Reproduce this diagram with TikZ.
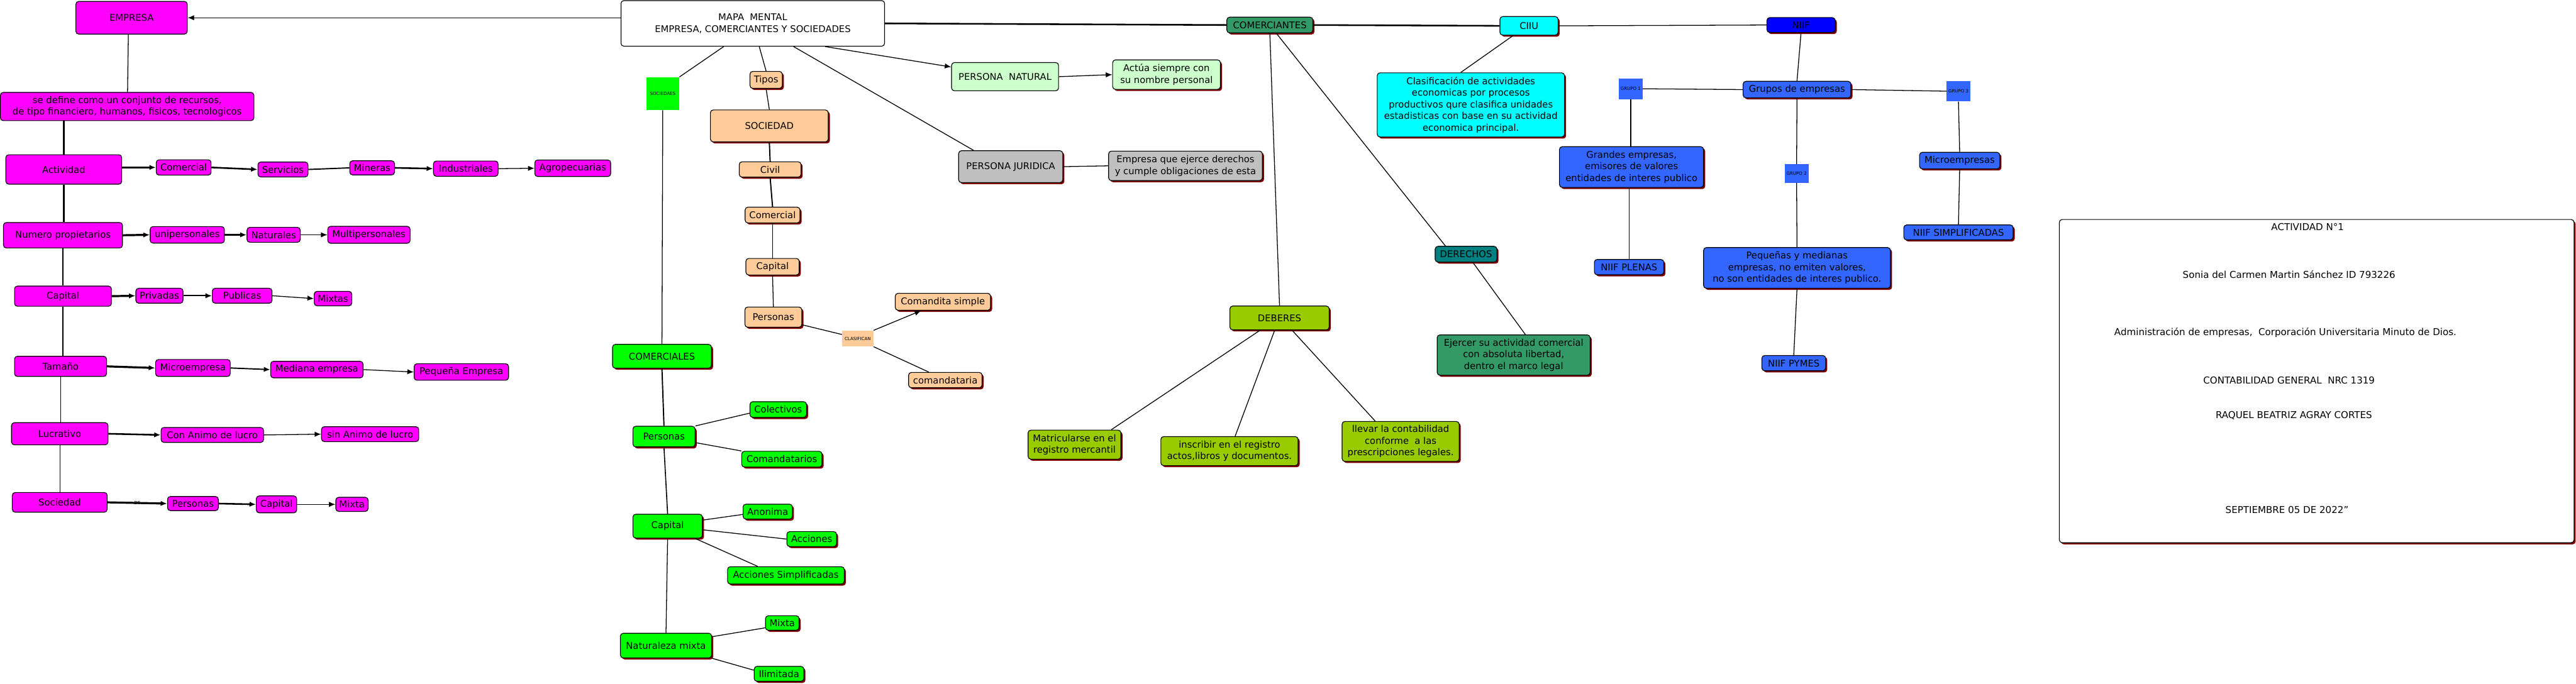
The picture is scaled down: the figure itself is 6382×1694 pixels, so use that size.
\documentclass[tikz,border=0pt]{standalone}
\usepackage{fontspec}
\setmainfont{DejaVu Sans}
\usetikzlibrary{arrows.meta,shadows,calc}
\definecolor{mag}{HTML}{FF00FF}
\definecolor{gre}{HTML}{00FF00}
\definecolor{pea}{HTML}{FFCC99}
\definecolor{lgr}{HTML}{CCFFCC}
\definecolor{gry}{HTML}{C0C0C0}
\definecolor{sea}{HTML}{339966}
\definecolor{ygr}{HTML}{99CC00}
\definecolor{tea}{HTML}{008080}
\definecolor{cya}{HTML}{00FFFF}
\definecolor{blu}{HTML}{0000FF}
\definecolor{rb}{HTML}{3366FF}
\definecolor{shd}{HTML}{800000}
\newcommand\mapfont{\fontsize{23}{29}\selectfont}
\newcommand\infofont{\fontsize{23.5}{28}\selectfont}
\newcommand\tinyfont{\fontsize{11}{13}\selectfont}
\begin{document}
\begin{tikzpicture}[x=1pt,y=-1pt,
 bx/.style={rounded corners=7pt, draw=black, line width=1.8pt, inner sep=0pt, align=center, font=\mapfont, text=black},
 sz/.style 2 args={minimum width=#1pt, minimum height=#2pt},
 sh/.style={drop shadow={shadow xshift=4pt, shadow yshift=-4pt, fill=shd, opacity=1}},
 mg/.style={bx, fill=mag},
 gr/.style={bx, sh, fill=gre},
 pe/.style={bx, sh, fill=pea},
 lg/.style={bx, fill=lgr},
 gy/.style={bx, sh, fill=gry},
 se/.style={bx, sh, fill=sea},
 yg/.style={bx, sh, fill=ygr},
 te/.style={bx, sh, fill=tea},
 cy/.style={bx, sh, fill=cya},
 bl/.style={bx, sh, fill=blu},
 rbx/.style={bx, sh, fill=rb},
 sq/.style={draw=none, inner sep=0pt, font=\tinyfont, text=black, align=center},
 ln/.style={line width=2pt},
 arr/.style={line width=2pt, -{Latex[length=16pt,width=13pt]}},
]
\fill[white] (0,0) rectangle (6382,1694);
\useasboundingbox (0,0) rectangle (6382,1694);

% ---------- title ----------
\node[bx, fill=white, sz={653}{113}] (mapa) at (1865,58) {MAPA\ \ MENTAL\\EMPRESA, COMERCIANTES Y SOCIEDADES};

% ---------- EMPRESA branch ----------
\node[mg, sz={276}{81}] (empresa) at (326,44) {EMPRESA};
\node[mg, sz={628}{70}] (def) at (315,264) {se define como un conjunto de recursos,\\de tipo financiero, humanos, fisicos, tecnologicos};
\node[mg, sz={287}{73}] (actividad) at (158,420) {Actividad};
\node[mg, sz={136}{38}] (acomercial) at (455,415) {Comercial};
\node[mg, sz={124}{37}] (servicios) at (701,420) {Servicios};
\node[mg, sz={111}{35}] (mineras) at (922,416) {Mineras};
\node[mg, sz={160}{38}] (industriales) at (1154,418) {Industriales};
\node[mg, sz={188}{41}] (agro) at (1419,417) {Agropecuarias};
\node[mg, sz={295}{63}] (numero) at (156,583) {Numero propietarios};
\node[mg, sz={184}{41}] (unip) at (464,582) {unipersonales};
\node[mg, sz={132}{37}] (naturales) at (678,582) {Naturales};
\node[mg, sz={204}{42}] (multip) at (914,582) {Multipersonales};
\node[mg, sz={240}{50}] (capitalm) at (156,734) {Capital};
\node[mg, sz={117}{37}] (privadas) at (395,733) {Privadas};
\node[mg, sz={148}{37}] (publicas) at (600,733) {Publicas};
\node[mg, sz={93}{36}] (mixtas) at (825,740) {Mixtas};
\node[mg, sz={228}{50}] (tamano) at (150,908) {Tamaño};
\node[mg, sz={185}{42}] (micro) at (478,912) {Microempresa};
\node[mg, sz={229}{41}] (mediana) at (785,916) {Mediana empresa};
\node[mg, sz={234}{41}] (pequena) at (1143,922) {Pequeña Empresa};
\node[mg, sz={239}{55}] (lucrativo) at (148,1075) {Lucrativo};
\node[mg, sz={254}{37}] (conanimo) at (526,1078) {Con Animo de lucro};
\node[mg, sz={241}{37}] (sinanimo) at (917,1076) {sin Animo de lucro};
\node[mg, sz={235}{49}] (sociedadm) at (148,1245) {Sociedad};
\node[mg, sz={126}{35}] (personasm) at (478,1248) {Personas};
\node[mg, sz={100}{42}] (capitalm2) at (685,1250) {Capital};
\node[mg, sz={80}{35}] (mixtam) at (872,1250) {Mixta};

\draw[arr] (mapa.west |- empresa.east) -- (empresa.east);
\draw[ln] ([xshift=-8pt]empresa.south) -- ([xshift=1pt]def.north);
\draw[line width=4pt] (actividad.north |- def.south) -- (actividad.north);
\draw[line width=4pt] (actividad.south) -- (actividad.south |- numero.north);
\draw[line width=3pt] (numero.south) -- (numero.south |- capitalm.north);
\draw[ln] (capitalm.south) -- (capitalm.south |- tamano.north);
\draw[ln] (tamano.south) -- (tamano.south |- lucrativo.north);
\draw[line width=1.5pt] (lucrativo.south) -- (lucrativo.south |- sociedadm.north);

\draw[arr, line width=5pt] (actividad.east |- acomercial.west) -- (acomercial.west);
\draw[arr, line width=4pt] (acomercial.east) -- (servicios.west);
\draw[line width=3pt] (servicios.east) -- (mineras.west);
\draw[arr, line width=4pt] (mineras.east) -- (industriales.west);
\draw[arr] (industriales.east) -- (agro.west);
\draw[arr, line width=5pt] (numero.east) -- (unip.west);
\draw[arr, line width=4pt] (unip.east) -- (naturales.west);
\draw[arr] (naturales.east) -- (multip.west);
\draw[arr, line width=5pt] (capitalm.east) -- (privadas.west);
\draw[arr, line width=3pt] (privadas.east) -- (publicas.west);
\draw[arr] (publicas.east) -- (mixtas.west);
\draw[arr, line width=5pt] (tamano.east) -- (micro.west);
\draw[arr, line width=3pt] (micro.east) -- (mediana.west);
\draw[arr] (mediana.east) -- (pequena.west);
\draw[arr, line width=4pt] (lucrativo.east) -- (conanimo.west);
\draw[arr] (conanimo.east) -- (sinanimo.west);
\draw[arr, line width=5pt] (sociedadm.east) -- node[font=\tinyfont, inner sep=0pt] (de) {DE} (personasm.west);
\draw[arr, line width=4pt] (personasm.east) -- (capitalm2.west);
\draw[arr] (capitalm2.east) -- (mixtam.west);

% ---------- SOCIEDADES branch ----------
\node[sq, fill=gre, sz={82}{82}] (sociedaes) at (1642,232) {SOCIEDAES};
\node[gr, sz={245}{59}] (comerciales) at (1640,883) {COMERCIALES};
\node[gr, sz={154}{51}] (gpersonas) at (1645,1082) {Personas};
\node[gr, sz={140}{39}] (colectivos) at (1928,1015) {Colectivos};
\node[gr, sz={199}{39}] (comandatarios) at (1937,1138) {Comandatarios};
\node[gr, sz={172}{59}] (gcapital) at (1654,1304) {Capital};
\node[gr, sz={122}{37}] (anonima) at (1902,1268) {Anonima};
\node[gr, sz={123}{37}] (acciones) at (2011,1336) {Acciones};
\node[gr, sz={289}{43}] (accsimp) at (1947,1426) {Acciones Simplificadas};
\node[gr, sz={226}{61}] (natmixta) at (1650,1600) {Naturaleza mixta};
\node[gr, sz={83}{36}] (gmixta) at (1938,1544) {Mixta};
\node[gr, sz={123}{37}] (ilimitada) at (1930,1670) {Ilimitada};

\draw[ln] ([xshift=-72pt]mapa.south) -- (sociedaes.north east);
\draw[ln] (sociedaes.south) -- (comerciales.north);
\draw[line width=3pt] (comerciales.south) -- (gpersonas.north);
\draw[ln] (gpersonas.north east) -- ([yshift=-9pt]colectivos.west);
\draw[ln] ([yshift=-15pt]gpersonas.east) -- (comandatarios.north west);
\draw[line width=2.5pt] (gpersonas.south) -- (gcapital.north);
\draw[ln] ([yshift=15pt]gcapital.east) -- ([yshift=-7pt]anonima.west);
\draw[ln] ([yshift=-9pt]gcapital.east) -- (acciones.west);
\draw[ln] ([xshift=68pt]gcapital.south) -- ([xshift=-70pt]accsimp.north);
\draw[ln] (gcapital.south) -- (natmixta.north);
\draw[ln] ([yshift=22pt]natmixta.east) -- ([yshift=-12pt]gmixta.west);
\draw[ln] (natmixta.south east) -- ([yshift=9pt]ilimitada.west);

% ---------- Tipos de sociedad ----------
\node[pe, sz={80}{42}] (tipos) at (1898,198) {Tipos};
\node[pe, sz={292}{79}] (sociedad) at (1906,312) {SOCIEDAD};
\node[pe, sz={153}{38}] (civil) at (1908,420) {Civil};
\node[pe, sz={136}{39}] (ocomercial) at (1914,533) {Comercial};
\node[pe, sz={132}{41}] (ocapital) at (1914,661) {Capital};
\node[pe, sz={141}{50}] (opersonas) at (1916,786) {Personas};
\node[sq, fill=pea, sz={78}{40}] (clasifican) at (2125,839) {CLASIFICAN};
\node[pe, sz={236}{42}] (comandita) at (2336,748) {Comandita simple};
\node[pe, sz={182}{38}] (comandataria) at (2342,942) {comandataria};

\draw[ln] ([xshift=16pt]mapa.south) -- (tipos.north);
\draw[ln] (tipos.south) -- (sociedad.north);
\draw[line width=3pt] (sociedad.south) -- (civil.north);
\draw[line width=3pt] (civil.south) -- (ocomercial.north);
\draw[ln] (ocomercial.south) -- (ocapital.north);
\draw[ln] (ocapital.south) -- (opersonas.north);
\draw[ln] ([yshift=-19pt]opersonas.east) -- ([yshift=10pt]clasifican.west);
\draw[arr] (clasifican.north east) -- ([xshift=-54pt]comandita.south);
\draw[ln] (clasifican.south east) -- ([xshift=-41pt]comandataria.north);

% ---------- personas ----------
\node[lg, sz={265}{70}] (pn) at (2490,190) {PERSONA\ \ NATURAL};
\node[lg, sh, sz={267}{73}] (actua) at (2890,185) {Actúa siempre con\\su nombre personal};
\node[gy, sz={258}{79}] (pj) at (2504,413) {PERSONA JURIDICA};
\node[gy, sz={381}{73}] (empresaque) at (2937,411) {Empresa que ejerce derechos\\y cumple obligaciones de esta};

\draw[arr] ([xshift=179pt]mapa.south) -- ([yshift=24pt]pn.west);
\draw[arr] (pn.east) -- (actua.west);
\draw[ln] ([xshift=101pt]mapa.south) -- ([xshift=-92pt]pj.north);
\draw[ln] (pj.east) -- (empresaque.west);

% ---------- COMERCIANTES ----------
\node[se, sz={213}{39}] (comerciantes) at (3146,62) {COMERCIANTES};
\node[yg, sz={246}{59}] (deberes) at (3170,788) {DEBERES};
\node[yg, sz={230}{72}] (matric) at (2662,1102) {Matricularse en el\\registro mercantil};
\node[yg, sz={340}{72}] (inscribir) at (3046,1118) {inscribir en el registro\\actos,libros y documentos.};
\node[yg, sz={290}{99}] (llevar) at (3470,1094) {llevar la contabilidad\\conforme\ \ a las\\prescripciones legales.};
\node[te, sz={153}{39}] (derechos) at (3632,630) {DERECHOS};
\node[se, sz={379}{100}] (ejercer) at (3750,880) {Ejercer su actividad comercial\\con absoluta libertad,\\dentro el marco legal};

\draw[line width=4pt] (mapa.east) -- (comerciantes.west);
\draw[ln] (comerciantes.south) -- (deberes.north);
\draw[ln] ([xshift=16pt]comerciantes.south) -- ([xshift=-51pt]derechos.north);
\draw[ln] ([xshift=17pt]derechos.south) -- ([xshift=29pt]ejercer.north);
\draw[ln] ([xshift=-48pt]deberes.south) -- ([xshift=91pt]matric.north);
\draw[ln] ([xshift=-12pt]deberes.south) -- ([xshift=14pt]inscribir.north);
\draw[ln] ([xshift=31pt]deberes.south) -- ([xshift=-63pt]llevar.north);

% ---------- CIIU / NIIF ----------
\node[cy, sz={144}{46}] (ciiu) at (3788,64) {CIIU};
\node[cy, sz={464}{159}] (clasif) at (3644,260) {Clasificación de actividades\\economicas por procesos\\productivos qure clasifica unidades\\estadisticas con base en su actividad\\economica principal.};
\node[bl, sz={169}{37}] (niif) at (4462,62) {NIIF};
\node[rbx, sz={267}{41}] (grupos) at (4452,222) {Grupos de empresas};
\node[sq, fill=rb, sz={59}{51}] (grupo1) at (4040,220) {GRUPO 1};
\node[sq, fill=rb, sz={59}{46}] (grupo2) at (4451,430) {GRUPO 2};
\node[sq, fill=rb, sz={58}{51}] (grupo3) at (4852,226) {GRUPO 3};
\node[rbx, sz={357}{101}] (grandes) at (4042,414) {Grandes empresas,\\emisores de valores\\entidades de interes publico};
\node[rbx, sz={172}{38}] (plenas) at (4036,662) {NIIF PLENAS};
\node[rbx, sz={463}{101}] (pequenas) at (4452,664) {Pequeñas y medianas\\empresas, no emiten valores,\\no son entidades de interes publico.};
\node[rbx, sz={158}{38}] (pymes) at (4444,900) {NIIF PYMES};
\node[rbx, sz={199}{41}] (microemp) at (4855,398) {Microempresas};
\node[rbx, sz={271}{37}] (simplif) at (4852,576) {NIIF SIMPLIFICADAS};

\draw[line width=4pt] (comerciantes.east) -- (ciiu.west);
\draw[ln] ([xshift=-39pt]ciiu.south) -- ([xshift=-25pt]clasif.north);
\draw[ln] (ciiu.east) -- (niif.west);
\draw[ln] (niif.south) -- (grupos.north);
\draw[ln] (grupos.west) -- (grupo1.east);
\draw[ln] (grupos.east) -- (grupo3.west);
\draw[ln] (grupo1.south) -- (grandes.north -| grupo1.south);
\draw[ln] (grandes.south -| plenas.north) -- (plenas.north);
\draw[ln] (grupos.south) -- (grupo2.north);
\draw[ln] (grupo2.south) -- (pequenas.north);
\draw[ln] (pequenas.south) -- (pymes.north);
\draw[ln] (grupo3.south) -- (microemp.north);
\draw[ln] (microemp.south) -- (simplif.north);

% ---------- info box ----------
\node[bx, sh, fill=white, sz={1275}{801}] (info) at (5739.5,944.5) {};
\node[font=\infofont, inner sep=0pt] (info1) at (5717,563) {ACTIVIDAD N°1};
\node[font=\infofont, inner sep=0pt] (info2) at (5671,680) {Sonia del Carmen Martin Sánchez ID 793226};
\node[font=\infofont, inner sep=0pt] (info3) at (5662,825) {Administración de empresas,\ \ Corporación Universitaria Minuto de Dios.};
\node[font=\infofont, inner sep=0pt] (info4) at (5671,943) {CONTABILIDAD GENERAL\ \ NRC 1319};
\node[font=\infofont, inner sep=0pt] (info5) at (5683,1030) {RAQUEL BEATRIZ AGRAY CORTES};
\node[font=\infofont, inner sep=0pt] (info6) at (5666,1263) {SEPTIEMBRE 05 DE 2022"};
\end{tikzpicture}
\end{document}
